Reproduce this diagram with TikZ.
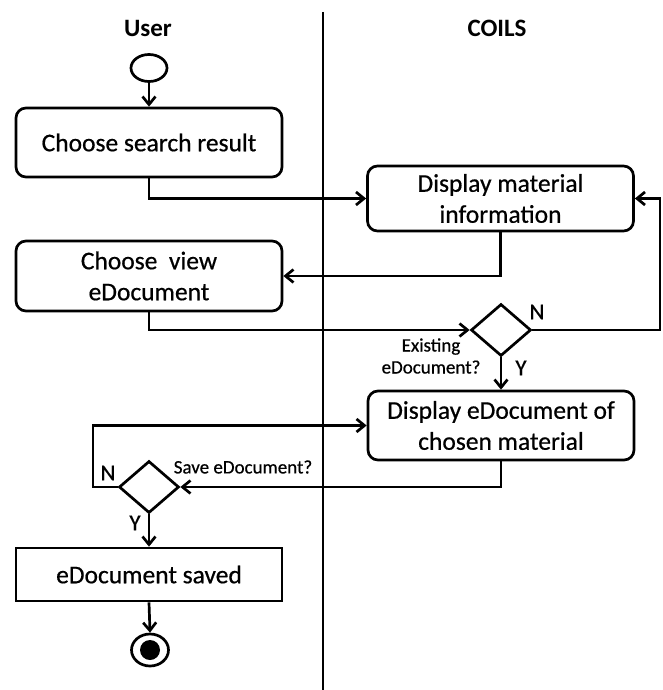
\documentclass[tikz,border=0pt]{standalone}
\usepackage{fontspec}
\setmainfont{Carlito}
\newfontfamily\boxfont{Carlito}[FakeBold=0.6]
\usetikzlibrary{shapes.geometric, arrows.meta}

\begin{document}
\begin{tikzpicture}[x = 1pt, y = -1pt, line width = 2.7pt,
                      flow/.style = {-{Straight Barb[length = 8pt, width = 13pt]}},
                      act/.style = {draw, rounded corners = 10pt, align = center,
                                    minimum width = 266pt, minimum height = 68pt,
                                    font = \boxfont\fontsize{25.5}{31}\selectfont},
                      plain/.style = {draw, align = center, minimum width = 266pt,
                                      minimum height = 53pt, font = \boxfont\fontsize{25.5}{31}\selectfont},
                      choice/.style = {diamond, draw, aspect = 1.15, inner sep = 0pt,
                                       minimum width = 60pt, minimum height = 52pt},
                      head/.style = {font = \fontsize{25}{30}\selectfont\bfseries},
                      note/.style = {align = center, font = \boxfont\fontsize{19}{22}\selectfont},
                      yn/.style = {font = \boxfont\fontsize{23}{26}\selectfont}]
    \useasboundingbox (0, 0) rectangle (662, 690);

    \node [head] (user)  at (148, 28){User};
    \node [head] (coils) at (497, 28){COILS};
    \coordinate (lanetop) at (323, 12);
    \coordinate (lanebot) at (323, 690);
    \draw (lanetop) -- (lanebot);

    \node [ellipse, draw, inner sep = 0pt, minimum width = 36pt, minimum height = 27pt] (start) at (149, 68){};
    \node [act, minimum height = 69pt] (choose) at (149, 142.5){Choose search result};
    \node [act, minimum height = 65pt] (display) at (500.5, 198.5){Display material\\information};
    \node [act, minimum height = 70pt] (view) at (149, 276){Choose\ \ view\\eDocument};
    \node [choice] (exist) at (501, 330){};
    \node [act, minimum height = 69pt] (docshow) at (501, 425.5){Display eDocument of\\chosen material};
    \node [choice] (save) at (149, 487){};
    \node [plain] (saved) at (149, 574.5){eDocument saved};
    \node [ellipse, draw, inner sep = 0pt, minimum width = 37pt, minimum height = 32pt] (stop) at (150, 650){};
    \node [circle, fill = black, inner sep = 0pt, minimum size = 20pt] (stopdot) at (stop.center){};

    \node [yn] (existno)  at (537, 312){N};
    \node [yn] (existyes) at (521, 368){Y};
    \node [note] (existq) at (431, 356){Existing\\eDocument?};
    \node [yn] (saveno)  at (108, 473){N};
    \node [yn] (saveyes) at (135, 523){Y};
    \node [note] (saveq) at (243, 467){Save eDocument?};

    \coordinate (loopr) at (660, 330);
    \coordinate (loopl) at (93, 487);

    \draw [flow] (start) -- (choose);
    \draw [flow] (choose.south) |- (display.west);
    \draw [flow] (display.south) |- (view.east);
    \draw [flow] (view.south) |- (exist.west);
    \draw [flow] (exist.east) -- (loopr) |- (display.east);
    \draw [flow] (exist.south) -- (docshow.north);
    \draw [flow] (docshow.south) |- (save.east);
    \draw [flow] (save.west) -- (loopl) |- (docshow.west);
    \draw [flow] (save.south) -- (saved.north);
    \draw [flow] (saved.south) -- (stop.north);
\end{tikzpicture}
\end{document}
